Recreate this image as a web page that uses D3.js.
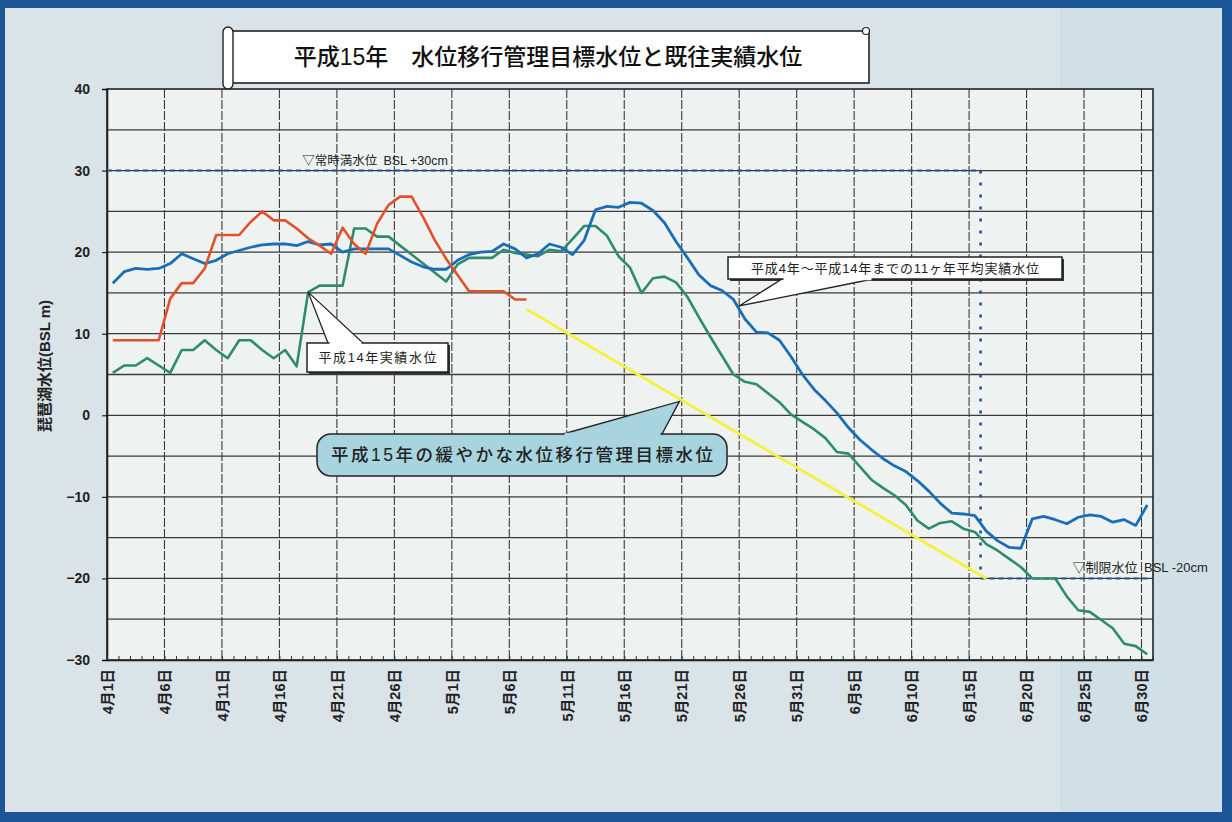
<!DOCTYPE html>
<html>
<head>
<meta charset="utf-8">
<script src="https://cdn.jsdelivr.net/npm/d3@7"></script>
<style>
  body { margin: 0; background: #1c5596; }
  svg { display: block; }
  text { font-family: "Liberation Sans", "Noto Sans CJK JP", sans-serif; }
</style>
</head>
<body>
<svg id="chart" width="1232" height="822"></svg>
<script>
// day index: 0 = 4月1日 ... 90 = 6月30日
var tickDays = [0, 5, 10, 15, 20, 25, 30, 35, 40, 45, 50, 55, 60, 65, 70, 75, 80, 85, 90];
var tickLabels = ["4月1日", "4月6日", "4月11日", "4月16日", "4月21日", "4月26日", "5月1日", "5月6日",
  "5月11日", "5月16日", "5月21日", "5月26日", "5月31日", "6月5日", "6月10日", "6月15日",
  "6月20日", "6月25日", "6月30日"];
var yTicks = [40, 30, 20, 10, 0, -10, -20, -30];

// 平成4年～平成14年までの11ヶ年平均実績水位 (cm)
var avgLevels = [16.2, 17.6, 18.0, 17.9, 18.0, 18.6, 19.8, 19.2, 18.6, 19.0,
  19.8, 20.2, 20.6, 20.9, 21.0, 21.0, 20.8, 21.3, 20.9, 21.0,
  20.0, 20.4, 20.4, 20.4, 20.4, 19.6, 18.8, 18.2, 17.9, 17.9,
  19.0, 19.7, 20.0, 20.1, 21.0, 20.4, 19.3, 19.8, 21.0, 20.6,
  19.7, 21.4, 25.2, 25.6, 25.5, 26.1, 26.0, 25.1, 23.6, 21.3,
  19.3, 17.2, 15.9, 15.3, 14.2, 11.8, 10.2, 10.1, 9.2, 7.2,
  5.0, 3.2, 1.8, 0.3, -1.5, -3.0, -4.2, -5.3, -6.2, -6.9,
  -8.0, -9.3, -10.8, -12.0, -12.1, -12.3, -14.2, -15.4, -16.2, -16.3,
  -12.7, -12.4, -12.8, -13.3, -12.5, -12.2, -12.4, -13.1, -12.8, -13.5, -11.0];

// 平成14年実績水位
var h14Levels = [5.2, 6.1, 6.1, 7.0, 6.1, 5.2, 8.0, 8.0, 9.2, 8.0,
  7.0, 9.2, 9.2, 8.0, 7.0, 8.0, 6.0, 15.1, 15.9, 15.9,
  15.9, 22.9, 22.9, 21.9, 21.9, 20.8, 19.7, 18.6, 17.5, 16.4,
  18.5, 19.3, 19.3, 19.3, 20.3, 19.9, 19.7, 19.5, 20.3, 20.1,
  21.6, 23.2, 23.2, 22.0, 19.5, 18.1, 15.0, 16.8, 17.0, 16.3,
  14.5, 12.0, 9.6, 7.3, 5.0, 4.1, 3.8, 2.7, 1.6, 0.1,
  -0.8, -1.7, -2.8, -4.5, -4.7, -6.3, -7.9, -8.9, -9.8, -11.0,
  -12.9, -13.9, -13.2, -13.0, -13.9, -14.3, -15.8, -16.6, -17.6, -18.6,
  -20.0, -20.0, -20.0, -22.2, -23.9, -24.1, -25.1, -26.1, -28.0, -28.3, -29.3];

// 平成15年実績 (5月7日まで)
var h15Levels = [9.2, 9.2, 9.2, 9.2, 9.2, 14.3, 16.2, 16.2, 18.0, 22.1,
  22.1, 22.1, 23.7, 25.0, 23.9, 23.9, 22.9, 21.7, 20.8, 19.8,
  23.0, 21.0, 19.8, 23.5, 25.8, 26.8, 26.8, 24.3, 21.5, 19.2,
  17.2, 15.2, 15.2, 15.2, 15.2, 14.2, 14.2];

// 平成15年の緩やかな水位移行管理目標水位
var targetDays = [36, 76];
var targetLevels = [13, -20];

var fullLevel = 30;     // 常時満水位
var limitLevel = -20;   // 制限水位
var limitDay = 75.5;

var svg = d3.select("#chart");
var W = 1232, H = 822;
var margin = {top: 89, right: 79, bottom: 162, left: 107};
var width = W - margin.left - margin.right,
    height = H - margin.top - margin.bottom;

// scanned page look
svg.append("rect").attr("x", 5).attr("y", 8).attr("width", W - 15).attr("height", H - 18)
  .attr("fill", "#dae3e8");
svg.append("rect").attr("x", 1060).attr("y", 8).attr("width", 162).attr("height", H - 18)
  .attr("fill", "#cddde5").attr("opacity", 0.7);

var x = d3.scaleLinear().domain([0, 91]).range([0, width]);
var y = d3.scaleLinear().domain([-30, 40]).range([height, 0]);
function px(d) { return x(d + 0.5); }

var chart = svg.append("g")
  .attr("transform", "translate(" + margin.left + "," + margin.top + ")");

chart.append("rect").attr("width", width).attr("height", height).attr("fill", "#eef3f2");

// grid
chart.append("g").selectAll("line")
  .data(d3.range(-25, 40, 5))
  .enter().append("line")
  .attr("x1", 0).attr("x2", width)
  .attr("y1", function (d) { return y(d); }).attr("y2", function (d) { return y(d); })
  .attr("stroke", "#3a3a3a").attr("stroke-width", 1.3);

chart.append("g").selectAll("line")
  .data(tickDays.slice(1))
  .enter().append("line")
  .attr("x1", function (d) { return x(d); }).attr("x2", function (d) { return x(d); })
  .attr("y1", 0).attr("y2", height)
  .attr("stroke", "#3a3a3a").attr("stroke-width", 1.1)
  .attr("stroke-dasharray", "9,2");

chart.append("rect").attr("width", width).attr("height", height)
  .attr("fill", "none").attr("stroke", "#222").attr("stroke-width", 1.6);

// axes
var yAxis = chart.append("g")
  .call(d3.axisLeft(y).tickValues(yTicks).tickSize(5).tickPadding(12));
yAxis.select(".domain").attr("stroke", "#222").attr("stroke-width", 1.6);
yAxis.selectAll("text").attr("font-size", 14).attr("font-weight", "bold").attr("fill", "#222")
  .text(function (d) { return d < 0 ? "\u2212" + Math.abs(d) : d; });

chart.append("g")
  .attr("transform", "translate(0," + height + ")")
  .call(d3.axisBottom(x).tickValues(d3.range(0, 92)).tickSize(-4).tickFormat(""))
  .call(function (g) { g.select(".domain").remove(); })
  .selectAll("line").attr("stroke", "#333");

var xAxis = chart.append("g")
  .attr("transform", "translate(0," + height + ")")
  .call(d3.axisBottom(x).tickValues(tickDays).tickSize(0)
    .tickFormat(function (d, i) { return tickLabels[i]; }));
xAxis.select(".domain").attr("stroke", "#222").attr("stroke-width", 1.6);
xAxis.selectAll("text")
  .attr("transform", "rotate(-90)")
  .attr("text-anchor", "end")
  .attr("x", -9).attr("y", 0).attr("dy", "0.36em")
  .attr("font-size", 14.5).attr("font-weight", "bold").attr("fill", "#222");

// y title
svg.append("text")
  .attr("transform", "translate(50,366) rotate(-90)")
  .attr("text-anchor", "middle")
  .attr("font-size", 15).attr("font-weight", "bold").attr("fill", "#222")
  .text("琵琶湖水位(BSL m)");

// reference lines
var refColor = "#27508e";
chart.append("line")
  .attr("x1", 0).attr("x2", px(limitDay))
  .attr("y1", y(fullLevel)).attr("y2", y(fullLevel))
  .attr("stroke", refColor).attr("stroke-width", 2).attr("stroke-dasharray", "5,4");
chart.append("line")
  .attr("x1", px(limitDay)).attr("x2", px(limitDay))
  .attr("y1", y(fullLevel)).attr("y2", y(limitLevel))
  .attr("stroke", refColor).attr("stroke-width", 2.6).attr("stroke-dasharray", "3,9");
chart.append("line")
  .attr("x1", px(limitDay)).attr("x2", px(90))
  .attr("y1", y(limitLevel)).attr("y2", y(limitLevel))
  .attr("stroke", refColor).attr("stroke-width", 2).attr("stroke-dasharray", "5,4");

chart.append("text")
  .attr("x", px(17) - 6).attr("y", y(fullLevel) - 6)
  .attr("font-size", 12.5).attr("fill", "#222")
  .text("▽常時満水位\u2002BSL +30cm");
chart.append("text")
  .attr("x", px(83.5)).attr("y", y(limitLevel) - 6)
  .attr("font-size", 13).attr("fill", "#222")
  .text("▽制限水位\u2002BSL -20cm");

// series
var line = d3.line()
  .x(function (d) { return px(d[0]); })
  .y(function (d) { return y(d[1]); });

function pairs(vals) { return vals.map(function (v, i) { return [i, v]; }); }

var series = [
  {vals: targetDays.map(function (d, i) { return [d, targetLevels[i]]; }), color: "#f3f23c", w: 2.8},
  {vals: pairs(h14Levels), color: "#2e8c6c", w: 2.6},
  {vals: pairs(avgLevels), color: "#1b6db6", w: 2.8},
  {vals: pairs(h15Levels), color: "#e4502c", w: 2.6}
];
chart.selectAll(".series")
  .data(series)
  .enter().append("path")
  .attr("class", "series")
  .attr("d", function (d) { return line(d.vals); })
  .attr("fill", "none")
  .attr("stroke", function (d) { return d.color; })
  .attr("stroke-width", function (d) { return d.w; })
  .attr("stroke-linejoin", "round");

// callouts (box in page pixels, tip anchored on data)
function callout(tip, box, base, label, opt) {
  var tx = margin.left + px(tip[0]), ty = margin.top + y(tip[1]);
  var g = svg.append("g");
  if (opt.shadow) {
    g.append("rect").attr("x", box[0] + 2).attr("y", box[1] + 2)
      .attr("width", box[2]).attr("height", box[3]).attr("fill", "#333");
  }
  var onTop = base[2] === "top";
  var by = onTop ? box[1] : box[1] + box[3];
  g.append("path")
    .attr("d", "M" + base[0] + "," + by + "L" + tx + "," + ty + "L" + base[1] + "," + by + "Z")
    .attr("fill", opt.fill).attr("stroke", "#222").attr("stroke-width", 1.3);
  g.append("rect").attr("x", box[0]).attr("y", box[1])
    .attr("width", box[2]).attr("height", box[3])
    .attr("rx", opt.rx || 0)
    .attr("fill", opt.fill).attr("stroke", "#222").attr("stroke-width", 1.5);
  // hide the border where the pointer joins the box
  g.append("line")
    .attr("x1", base[0] + 1.5).attr("x2", base[1] - 1.5)
    .attr("y1", by).attr("y2", by)
    .attr("stroke", opt.fill).attr("stroke-width", 2.5);
  g.append("text")
    .attr("x", box[0] + box[2] / 2).attr("y", box[1] + box[3] / 2)
    .attr("dy", "0.36em").attr("text-anchor", "middle")
    .attr("font-size", opt.size).attr("font-weight", opt.weight || "normal").attr("fill", "#222")
    .attr("textLength", opt.len).attr("lengthAdjust", "spacing")
    .text(label);
}

callout([17, h14Levels[17]], [307, 343, 141, 29], [328, 363, "top"],
  "平成14年実績水位", {fill: "#ffffff", size: 13, len: 118, shadow: true});
callout([54.5, 13.4], [728, 257, 334, 22], [782, 873, "bottom"],
  "平成4年～平成14年までの11ヶ年平均実績水位", {fill: "#ffffff", size: 13, len: 288, shadow: true});
callout([49.3, 1.7], [317, 434, 410, 42], [563, 662, "top"],
  "平成15年の緩やかな水位移行管理目標水位", {fill: "#a7d4df", size: 17.5, len: 382, rx: 14, weight: 500});

// title scroll
var tg = svg.append("g");
tg.append("rect").attr("x", 231).attr("y", 31).attr("width", 638).attr("height", 52)
  .attr("fill", "#ffffff").attr("stroke", "#222").attr("stroke-width", 1.6);
tg.append("rect").attr("x", 223).attr("y", 27).attr("width", 10).attr("height", 62).attr("rx", 5)
  .attr("fill", "#ffffff").attr("stroke", "#222").attr("stroke-width", 1.4);
tg.append("circle").attr("cx", 866).attr("cy", 31).attr("r", 3.5)
  .attr("fill", "#ffffff").attr("stroke", "#222").attr("stroke-width", 1.2);
tg.append("text")
  .attr("x", 548).attr("y", 57).attr("dy", "0.36em").attr("text-anchor", "middle")
  .attr("font-size", 23).attr("font-weight", 500).attr("fill", "#111")
  .text("平成15年\u3000水位移行管理目標水位と既往実績水位");
</script>
</body>
</html>
